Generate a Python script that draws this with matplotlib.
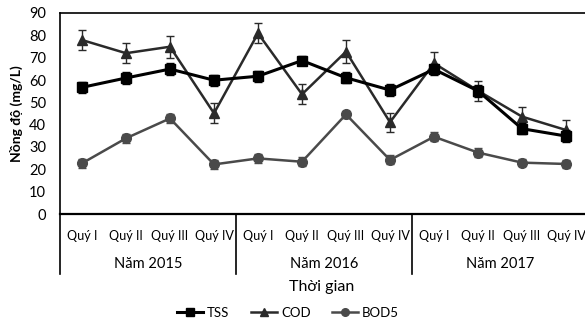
import matplotlib
matplotlib.use("Agg")
import matplotlib.pyplot as plt
import matplotlib.transforms as mtransforms
from matplotlib.lines import Line2D

plt.rcParams['font.family'] = ['Lato', 'DejaVu Sans']

quarters = ["Quý I", "Quý II", "Quý III", "Quý IV"] * 3
years = ["Năm 2015", "Năm 2016", "Năm 2017"]

tss = [56.7, 60.9, 64.9, 59.9, 61.7, 68.7, 61.0, 55.5, 64.8, 55.1, 38.2, 34.9]
tss_err = [2.5, 2.5, 2.5, 2.5, 2.5, 2.0, 2.5, 2.5, 2.5, 2.5, 2.5, 2.5]
cod = [77.9, 72.0, 74.9, 45.1, 80.9, 53.6, 72.7, 41.1, 67.5, 55.2, 43.6, 37.6]
cod_err = [4.5, 4.5, 5.0, 4.5, 4.5, 4.4, 5.0, 4.3, 5.0, 4.5, 4.2, 4.5]
bod5 = [22.7, 33.9, 42.8, 22.2, 24.9, 23.4, 44.6, 24.2, 34.6, 27.5, 23.0, 22.4]
bod5_err = [2.0, 2.0, 2.0, 2.0, 2.0, 2.0, 1.5, 2.0, 2.0, 2.0, 1.5, 2.0]

series = [
    ("TSS", tss, tss_err, 'black', 's', 6.5, 2.2),
    ("COD", cod, cod_err, '#2a2a2a', '^', 7, 1.8),
    ("BOD5", bod5, bod5_err, '#4a4a4a', 'o', 7, 1.8),
]

fig = plt.figure(figsize=(5.85, 3.23), dpi=100)
ax = fig.add_axes([60/585, 1-214/323, 528/585, 201/323])

x = list(range(len(quarters)))
handles = []
for z, (name, vals, err, col, mk, ms, lw) in enumerate(series):
    ax.errorbar(x, vals, yerr=err, color=col, marker=mk, markersize=ms,
                linewidth=lw, capsize=3, elinewidth=1, zorder=4 - z)
    handles.append(Line2D([], [], color=col, marker=mk, markersize=5.5, linewidth=lw, label=name))

ax.set_xlim(-0.5, len(quarters) - 0.5)
ax.set_ylim(0, 90)
ax.set_yticks(range(0, 91, 10))
ax.tick_params(axis='y', length=0, labelsize=10.5, pad=10)
ax.set_xticks([])
for s in ['top', 'left', 'right']:
    ax.spines[s].set_linewidth(1.2)
ax.spines['bottom'].set_linewidth(1.6)
ax.set_ylabel("Nồng độ (mg/L)", fontsize=10, fontweight='bold', labelpad=4)

trans = mtransforms.blended_transform_factory(ax.transData, ax.transAxes)
ybot_axes = -(274-214)/201
for b in [-0.5, 3.5, 7.5, 11.5]:
    ax.plot([b, b], [0, ybot_axes], transform=trans, color='black', lw=1.2, clip_on=False)
for i, q in enumerate(quarters):
    ax.text(i, -(236-214)/201, q, transform=trans, ha='center', va='center', fontsize=9.1)
for j, yname in enumerate(years):
    ax.text(4*j + 1.5, -(264-214)/201, yname, transform=trans, ha='center', va='center', fontsize=10.5)

fig.text(322/585, 1-287/323, "Thời gian", ha='center', va='center', fontsize=11.5)

fig.legend(handles=handles, loc='center', bbox_to_anchor=(288/585, 1-313/323), ncol=3,
           frameon=False, fontsize=9.5, handlelength=2.0, columnspacing=1.6, handletextpad=0.3)

fig.savefig("out.png", dpi=100)
